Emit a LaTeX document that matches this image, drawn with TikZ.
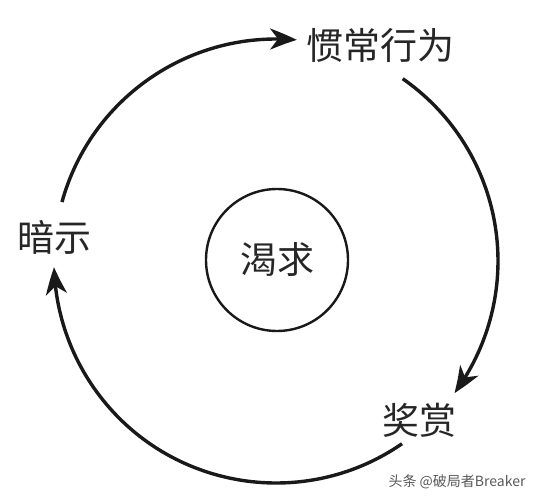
\documentclass[tikz,border=0pt]{standalone}
\usepackage{fontspec}
\newfontfamily\cjk{Noto Sans CJK SC}
\usetikzlibrary{arrows.meta,bending}
\begin{document}
\begin{tikzpicture}[x=1pt,y=1pt,
  cyc/.style={line width=3.4pt,draw=black!90,-{Stealth[length=27pt,width=21pt,inset=8pt,bend]}},
  lbl/.style={font=\cjk\fontsize{37}{37}\selectfont,text=black!85,inner sep=0pt},
  wm/.style={font=\cjk\fontsize{14}{14}\selectfont,text=black!65,inner sep=0pt}]
\useasboundingbox[fill=white] (0,0) rectangle (539,-500);
\coordinate (C) at (276,-261);
\node[draw=black!90,line width=2.4pt,circle,minimum size=142pt,inner sep=0pt] (crave) at (277,-260) {};
\node[lbl] (cravet) at (277,-260) {渴求};
\node[lbl] (routine) at (380,-45) {惯常行为};
\node[lbl] (cue) at (54,-237) {暗示};
\node[lbl] (reward) at (419,-420) {奖赏};
\node[wm] (mark) at (457,-482) {头条 @破局者Breaker};
\coordinate (a1s) at ([shift={(164.6:222)}]C);
\coordinate (a2s) at ([shift={(55.2:222)}]C);
\coordinate (a3s) at ([shift={(-55.4:222)}]C);
\draw[cyc] (a1s) arc[start angle=164.6,end angle=84.6,radius=222];
\draw[cyc] (a2s) arc[start angle=55.2,end angle=-36.5,radius=222];
\draw[cyc] (a3s) arc[start angle=-55.4,end angle=-178.4,radius=222];
\end{tikzpicture}
\end{document}
